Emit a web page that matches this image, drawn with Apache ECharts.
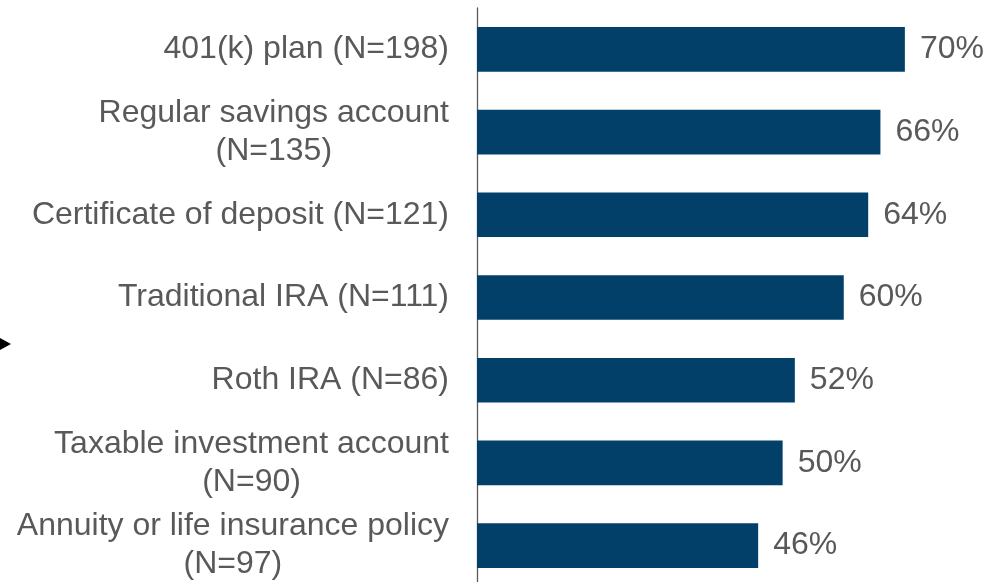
<!DOCTYPE html>
<html><head><meta charset="utf-8">
<script src="https://cdn.jsdelivr.net/npm/echarts@6/dist/echarts.min.js"></script>
<style>html,body{margin:0;padding:0;background:#fff;overflow:hidden}#c{width:997px;height:592px}</style>
</head><body><div id="c"></div>
<script>
const categories = [
  "401(k) plan (N=198)",
  "Regular savings account\n(N=135)",
  "Certificate of deposit (N=121)",
  "Traditional IRA (N=111)",
  "Roth IRA (N=86)",
  "Taxable investment account\n(N=90)",
  "Annuity or life insurance policy\n(N=97)"
];
const values = [70, 66, 64, 60, 52, 50, 46];

const chart = echarts.init(document.getElementById('c'));
chart.setOption({
  animation: false,
  grid: { left: 477, top: 8, width: 489, height: 579, containLabel: false },
  xAxis: { type: 'value', min: 0, max: 80, show: false },
  yAxis: {
    type: 'category', data: categories, inverse: true,
    axisLine: { show: true, lineStyle: { color: '#595959', width: 1.3 } },
    axisTick: { show: false },
    axisLabel: {
      margin: 28, align: 'right', color: '#595959',
      fontFamily: 'Liberation Sans, Arial, sans-serif', fontSize: 32,
      formatter: function (v) { return v.split('\n').map(s => '{a|' + s + '}').join('\n'); },
      rich: { a: { align: 'center', fontSize: 32, lineHeight: 38, color: '#595959', fontFamily: 'Liberation Sans, Arial, sans-serif' } }
    }
  },
  series: [{
    type: 'bar', data: values, barCategoryGap: '46%',
    itemStyle: { color: '#02406a' },
    label: {
      show: true, position: 'right', distance: 15, formatter: '{c}%',
      color: '#595959', fontSize: 32, fontFamily: 'Liberation Sans, Arial, sans-serif'
    }
  }],
  graphic: [{
    type: 'polygon', shape: { points: [[0, 338], [11, 344], [0, 350]] },
    style: { fill: '#000' }
  }]
});
</script></body></html>
